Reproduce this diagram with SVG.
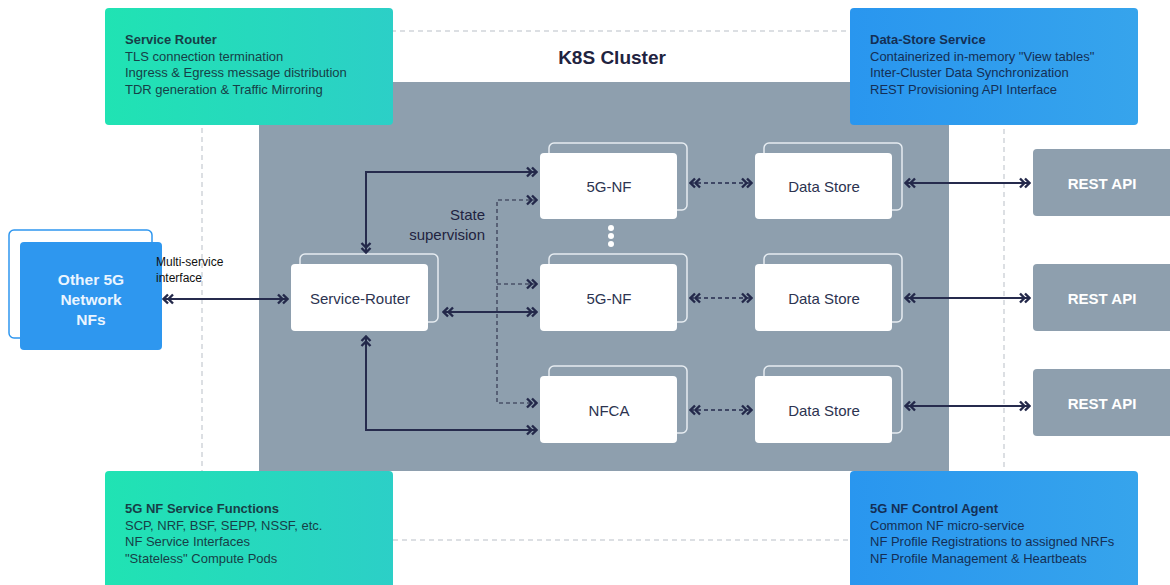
<svg xmlns="http://www.w3.org/2000/svg" width="1170" height="585" viewBox="0 0 1170 585">
<style>
.info{font-family:"Liberation Sans",Arial,sans-serif;font-size:13px}
.infoG{fill:#173f47}
.infoB{fill:#142f55}
.bold{font-weight:700}
.node{fill:#ffffff}
.back{fill:none;stroke:#e6ecf1;stroke-width:1.5}
.lbl{font-family:"Liberation Sans",Arial,sans-serif;font-size:15px;fill:#2c3350;text-anchor:middle}
.rest{fill:#8e9fae}
.restT{font-family:"Liberation Sans",Arial,sans-serif;font-size:15px;font-weight:700;fill:#ffffff;text-anchor:middle}
.solid{fill:none;stroke:#262b4d;stroke-width:2}
.dash{fill:none;stroke:#262b4d;stroke-width:1.6;stroke-dasharray:4 3}
.dashg{fill:none;stroke:#4a5168;stroke-width:1.6;stroke-dasharray:4 3}
</style>
<defs>
<linearGradient id="gG" x1="0" y1="0" x2="1" y2="0">
<stop offset="0" stop-color="#20e3b3"/><stop offset="1" stop-color="#2ccfc7"/>
</linearGradient>
<linearGradient id="gB" x1="0" y1="0" x2="1" y2="0">
<stop offset="0" stop-color="#2996ef"/><stop offset="1" stop-color="#36a4ec"/>
</linearGradient>
<marker id="ch" viewBox="-1 -6 12 12" refX="10" refY="0" markerWidth="12" markerHeight="12" markerUnits="userSpaceOnUse" orient="auto-start-reverse">
<path d="M0,-4.5 L4.5,0 L0,4.5 M5,-4.5 L9.5,0 L5,4.5" fill="none" stroke="#23284a" stroke-width="2.4" stroke-dasharray="none"/>
</marker>
</defs>
<rect width="1170" height="585" fill="#ffffff"/>
<rect x="202" y="31" width="802" height="509" fill="none" stroke="#b9bfc7" stroke-width="1" stroke-dasharray="5 4"/>
<rect x="259" y="82" width="690" height="389" fill="#8e9fae"/>
<text x="612" y="64" font-family="Liberation Sans,Arial,sans-serif" font-size="19" font-weight="700" fill="#1f2340" text-anchor="middle">K8S Cluster</text>

<g id="info-service-router">
<rect x="105" y="8" width="288" height="117" rx="4" fill="url(#gG)"/>
<text class="info infoG" x="125" y="44"><tspan class="bold">Service Router</tspan><tspan x="125" dy="16.5">TLS connection termination</tspan><tspan x="125" dy="16.5">Ingress &amp; Egress message distribution</tspan><tspan x="125" dy="16.5">TDR generation &amp; Traffic Mirroring</tspan></text>
</g>
<g id="info-data-store">
<rect x="850" y="8" width="288" height="117" rx="4" fill="url(#gB)"/>
<text class="info infoB" x="870" y="44"><tspan class="bold">Data-Store Service</tspan><tspan x="870" dy="16.5">Containerized in-memory "View tables"</tspan><tspan x="870" dy="16.5">Inter-Cluster Data Synchronization</tspan><tspan x="870" dy="16.5">REST Provisioning API Interface</tspan></text>
</g>
<g id="info-nf-functions">
<rect x="105" y="471" width="288" height="124" rx="4" fill="url(#gG)"/>
<text class="info infoG" x="125" y="513"><tspan class="bold">5G NF Service Functions</tspan><tspan x="125" dy="16.5">SCP, NRF, BSF, SEPP, NSSF, etc.</tspan><tspan x="125" dy="16.5">NF Service Interfaces</tspan><tspan x="125" dy="16.5">"Stateless" Compute Pods</tspan></text>
</g>
<g id="info-control-agent">
<rect x="850" y="471" width="288" height="124" rx="4" fill="url(#gB)"/>
<text class="info infoB" x="870" y="513"><tspan class="bold">5G NF Control Agent</tspan><tspan x="870" dy="16.5">Common NF micro-service</tspan><tspan x="870" dy="16.5">NF Profile Registrations to assigned NRFs</tspan><tspan x="870" dy="16.5">NF Profile Management &amp; Heartbeats</tspan></text>
</g>

<g id="other-nfs">
<rect x="9" y="230" width="143" height="108" rx="5" fill="#ffffff" stroke="#2f97ef" stroke-width="1.5"/>
<rect x="20" y="242" width="142" height="108" rx="4" fill="#2e97ef"/>
<text x="91" y="285" font-family="Liberation Sans,Arial,sans-serif" font-size="15.5" font-weight="700" fill="#eaf5ff" text-anchor="middle"><tspan x="91">Other 5G</tspan><tspan x="91" dy="20">Network</tspan><tspan x="91" dy="20">NFs</tspan></text>
</g>
<text x="156" y="266" font-family="Liberation Sans,Arial,sans-serif" font-size="12" fill="#111111"><tspan x="156">Multi-service</tspan><tspan x="156" dy="16">interface</tspan></text>

<g id="service-router">
<rect class="back" x="300" y="254" width="138" height="68" rx="5"/>
<rect class="node" x="291" y="264" width="137" height="67" rx="4"/>
<text class="lbl" x="360" y="304">Service-Router</text>
</g>
<g id="nf1">
<rect class="back" x="549" y="143" width="138" height="67" rx="5"/>
<rect class="node" x="540" y="153" width="137" height="66" rx="4"/>
<text class="lbl" x="609" y="192">5G-NF</text>
</g>
<g id="nf2">
<rect class="back" x="549" y="254" width="138" height="68" rx="5"/>
<rect class="node" x="540" y="264" width="137" height="67" rx="4"/>
<text class="lbl" x="609" y="304">5G-NF</text>
</g>
<g id="nfca">
<rect class="back" x="549" y="366" width="138" height="67" rx="5"/>
<rect class="node" x="540" y="376" width="137" height="67" rx="4"/>
<text class="lbl" x="609" y="416">NFCA</text>
</g>
<g id="ds1">
<rect class="back" x="764" y="143" width="138" height="67" rx="5"/>
<rect class="node" x="755" y="153" width="137" height="66" rx="4"/>
<text class="lbl" x="824" y="192">Data Store</text>
</g>
<g id="ds2">
<rect class="back" x="764" y="254" width="138" height="68" rx="5"/>
<rect class="node" x="755" y="264" width="137" height="67" rx="4"/>
<text class="lbl" x="824" y="304">Data Store</text>
</g>
<g id="ds3">
<rect class="back" x="764" y="366" width="138" height="67" rx="5"/>
<rect class="node" x="755" y="376" width="137" height="67" rx="4"/>
<text class="lbl" x="824" y="416">Data Store</text>
</g>
<g id="rest1">
<rect class="rest" x="1033" y="149" width="145" height="67" rx="4"/>
<text class="restT" x="1102" y="189">REST API</text>
</g>
<g id="rest2">
<rect class="rest" x="1033" y="264" width="145" height="67" rx="4"/>
<text class="restT" x="1102" y="304">REST API</text>
</g>
<g id="rest3">
<rect class="rest" x="1033" y="369" width="145" height="67" rx="4"/>
<text class="restT" x="1102" y="409">REST API</text>
</g>

<g id="dots" fill="#ffffff">
<circle cx="611" cy="228" r="3"/><circle cx="611" cy="236" r="3"/><circle cx="611" cy="244" r="3"/>
</g>
<text x="485" y="220" font-family="Liberation Sans,Arial,sans-serif" font-size="15" fill="#1f2340" text-anchor="end"><tspan x="485">State</tspan><tspan x="485" dy="20">supervision</tspan></text>

<g id="connectors">
<path class="solid" d="M163,299 L288,299" marker-start="url(#ch)" marker-end="url(#ch)"/>
<path class="solid" d="M366,253 L366,172 L537,172" marker-start="url(#ch)" marker-end="url(#ch)"/>
<path class="solid" d="M443,312 L537,312" marker-start="url(#ch)" marker-end="url(#ch)"/>
<path class="solid" d="M366,336 L366,430 L537,430" marker-start="url(#ch)" marker-end="url(#ch)"/>
<path class="dashg" d="M537,200 L497,200 L497,403 L537,403" marker-start="url(#ch)" marker-end="url(#ch)"/>
<path class="dashg" d="M497,284 L537,284" marker-end="url(#ch)"/>
<path class="dash" d="M690,183 L752,183" marker-start="url(#ch)" marker-end="url(#ch)"/>
<path class="dash" d="M690,298 L752,298" marker-start="url(#ch)" marker-end="url(#ch)"/>
<path class="dash" d="M690,410 L752,410" marker-start="url(#ch)" marker-end="url(#ch)"/>
<path class="solid" d="M905,183 L1030,183" marker-start="url(#ch)" marker-end="url(#ch)"/>
<path class="solid" d="M905,298 L1030,298" marker-start="url(#ch)" marker-end="url(#ch)"/>
<path class="solid" d="M905,406 L1030,406" marker-start="url(#ch)" marker-end="url(#ch)"/>
</g>
</svg>
